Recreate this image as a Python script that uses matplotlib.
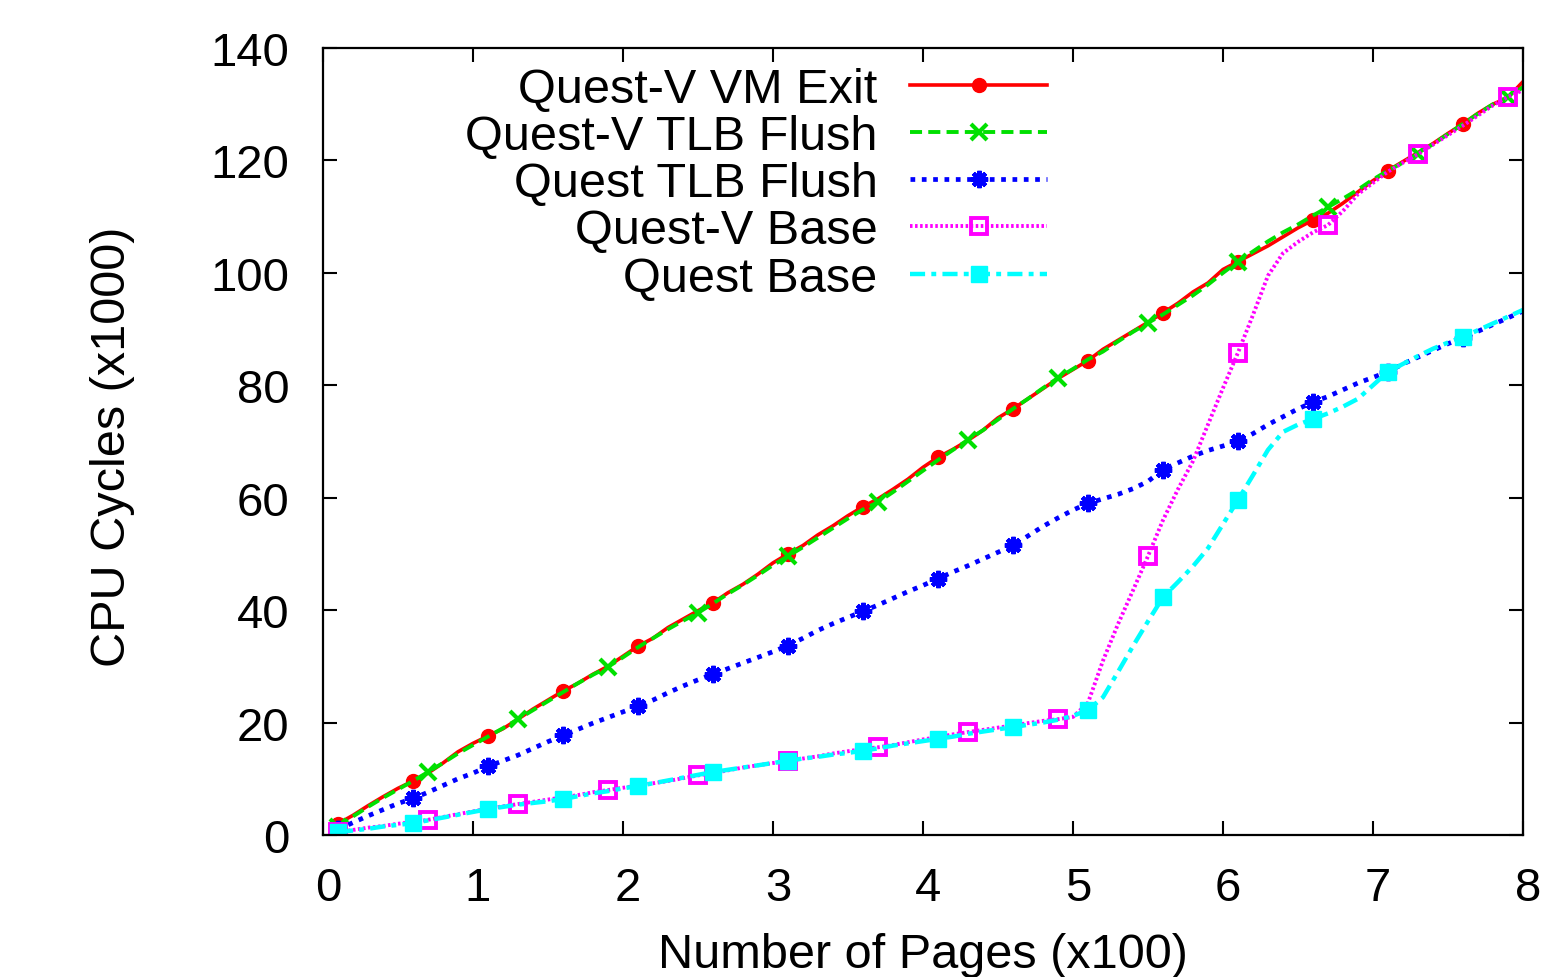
import matplotlib
matplotlib.use("Agg")
import matplotlib.pyplot as plt
import matplotlib.transforms as mtransforms

plt.rcParams['font.family'] = ['Liberation Sans', 'DejaVu Sans']

pages = [0.1, 0.2, 0.3, 0.4, 0.5, 0.6, 0.7, 0.8, 0.9, 1.0,
         1.1, 1.2, 1.3, 1.4, 1.5, 1.6, 1.7, 1.8, 1.9, 2.0,
         2.1, 2.2, 2.3, 2.4, 2.5, 2.6, 2.7, 2.8, 2.9, 3.0,
         3.1, 3.2, 3.3, 3.4, 3.5, 3.6, 3.7, 3.8, 3.9, 4.0,
         4.1, 4.2, 4.3, 4.4, 4.5, 4.6, 4.7, 4.8, 4.9, 5.0,
         5.1, 5.2, 5.3, 5.4, 5.5, 5.6, 5.7, 5.8, 5.9, 6.0,
         6.1, 6.2, 6.3, 6.4, 6.5, 6.6, 6.7, 6.8, 6.9, 7.0,
         7.1, 7.2, 7.3, 7.4, 7.5, 7.6, 7.7, 7.8, 7.9, 8.0]

questv_vm_exit = [2.0, 3.5, 5.2, 6.8, 8.3, 9.6, 11.0, 12.8, 14.8, 16.3,
                  17.6, 18.9, 20.6, 22.4, 24.0, 25.6, 27.0, 28.6, 30.0, 31.8,
                  33.6, 35.0, 36.9, 38.4, 39.9, 41.3, 43.1, 44.6, 46.4, 48.4,
                  50.0, 51.5, 53.4, 55.0, 56.8, 58.4, 59.8, 61.5, 63.3, 65.4,
                  67.2, 68.6, 70.2, 72.0, 74.2, 75.8, 77.6, 79.4, 81.2, 82.8,
                  84.4, 86.4, 88.0, 89.6, 91.2, 92.9, 94.6, 96.6, 98.2, 100.6,
                  102.0, 103.4, 104.8, 106.4, 108.0, 109.4, 110.6, 112.4, 114.4, 116.4,
                  118.2, 119.8, 121.4, 123.0, 124.8, 126.5, 128.4, 130.0, 131.2, 134.0]

questv_tlb_flush = [1.5, 3.3, 5.0, 6.6, 8.1, 9.6, 11.2, 12.8, 14.5, 16.0,
                    17.5, 19.0, 20.6, 22.2, 23.8, 25.4, 27.0, 28.5, 29.9, 31.6,
                    33.4, 35.0, 36.6, 38.1, 39.5, 41.2, 42.9, 44.5, 46.2, 48.0,
                    49.6, 51.2, 52.9, 54.6, 56.3, 57.9, 59.2, 61.0, 62.9, 64.8,
                    66.7, 68.5, 70.3, 72.0, 73.9, 75.8, 77.6, 79.5, 81.3, 82.9,
                    84.6, 86.0, 87.8, 89.5, 91.1, 92.6, 94.3, 96.0, 97.9, 100.0,
                    102.0, 103.8, 105.6, 107.2, 108.6, 110.2, 111.7, 113.2, 114.8, 116.6,
                    118.2, 119.6, 121.2, 122.9, 124.7, 126.5, 128.3, 130.0, 131.3, 133.0]

quest_tlb_flush = [1.0, 2.2, 3.4, 4.5, 5.6, 6.5, 7.6, 8.8, 10.0, 11.0,
                   12.2, 13.2, 14.2, 15.4, 16.6, 17.7, 18.8, 19.9, 20.9, 21.9,
                   22.9, 24.0, 25.3, 26.5, 27.6, 28.6, 29.6, 30.6, 31.6, 32.6,
                   33.7, 35.0, 36.4, 37.6, 38.7, 39.8, 40.9, 42.1, 43.3, 44.4,
                   45.6, 46.8, 47.9, 49.1, 50.3, 51.5, 53.2, 54.9, 56.4, 57.8,
                   59.0, 59.8, 60.6, 61.6, 62.9, 65.0, 66.2, 67.4, 68.4, 69.2,
                   70.0, 71.4, 73.0, 74.4, 75.8, 77.0, 78.0, 79.2, 80.4, 81.4,
                   82.4, 83.8, 85.0, 86.2, 87.4, 88.4, 89.6, 90.8, 92.0, 93.2]

questv_base = [0.5, 0.9, 1.3, 1.6, 2.0, 2.3, 2.7, 3.2, 3.7, 4.2,
               4.7, 5.1, 5.5, 5.9, 6.3, 6.7, 7.1, 7.6, 8.0, 8.4,
               8.8, 9.2, 9.6, 10.1, 10.6, 11.0, 11.5, 12.0, 12.4, 12.8,
               13.2, 13.6, 14.0, 14.5, 14.9, 15.3, 15.6, 16.0, 16.5, 17.0,
               17.4, 17.9, 18.3, 18.7, 19.1, 19.5, 19.9, 20.3, 20.6, 21.0,
               23.5, 31.0, 37.5, 43.5, 49.6, 56.0, 61.5, 66.5, 73.0, 79.5,
               85.8, 92.5, 99.5, 103.5, 105.5, 107.2, 108.5, 111.0, 114.0, 116.0,
               118.0, 119.6, 121.1, 122.8, 124.5, 126.2, 128.0, 129.8, 131.3, 132.5]

quest_base = [0.5, 0.8, 1.1, 1.5, 1.8, 2.1, 2.6, 3.1, 3.6, 4.1,
              4.6, 5.0, 5.4, 5.7, 6.0, 6.4, 6.9, 7.4, 7.8, 8.3,
              8.7, 9.2, 9.7, 10.2, 10.7, 11.2, 11.6, 12.0, 12.4, 12.8,
              13.2, 13.6, 13.9, 14.3, 14.6, 15.0, 15.4, 15.9, 16.3, 16.7,
              17.1, 17.5, 18.0, 18.4, 18.8, 19.2, 19.6, 20.0, 20.5, 21.2,
              22.2, 24.5, 29.0, 33.6, 38.0, 42.3, 45.0, 47.8, 51.0, 55.3,
              59.6, 64.0, 68.5, 71.7, 73.0, 74.0, 75.0, 76.2, 77.6, 80.0,
              82.4, 83.8, 85.2, 86.5, 87.6, 88.6, 89.8, 91.0, 92.2, 93.4]

labels = ["Quest-V VM Exit", "Quest-V TLB Flush", "Quest TLB Flush",
          "Quest-V Base", "Quest Base"]
x_ticks = [0, 1, 2, 3, 4, 5, 6, 7, 8]
y_ticks = [0, 20, 40, 60, 80, 100, 120, 140]

fig = plt.figure(figsize=(15.46, 9.78), dpi=100)
ax = fig.add_axes([0.2089, 0.1452, 0.7762, 0.8047])

ax.plot(pages, questv_vm_exit, color='#ff0000', lw=2.6, ls='-',
        marker='o', ms=10, markevery=(0, 5), label=labels[0])
ax.plot(pages, questv_tlb_flush, color='#00e000', lw=2.8, dashes=(3.1, 1.6),
        marker='x', ms=12, mew=3.0, markevery=(0, 6), label=labels[1])
ax.plot(pages, quest_tlb_flush, color='#0000ff', lw=3.4, dashes=(1.0, 1.4),
        marker=(8, 2, 0), ms=12.5, mew=3.0, markevery=(0, 5), label=labels[2])
ax.plot(pages, questv_base, color='#ff00ff', lw=2.8, dashes=(0.65, 0.65),
        marker='s', ms=12, mew=2.8, mfc='none', markevery=(0, 6), label=labels[3])
ax.plot(pages, quest_base, color='#00ffff', lw=3.2, dashes=(3.4, 1.4, 1.1, 1.4),
        marker='s', ms=11, markevery=(0, 5), label=labels[4])

ax.set_xlim(0, 8)
ax.set_ylim(0, 140)
ax.set_xticks(x_ticks)
ax.set_yticks(y_ticks)
ax.set_xticklabels([str(v) for v in x_ticks])
ax.set_yticklabels([str(v) for v in y_ticks])

for s in ax.spines.values():
    s.set_linewidth(1.6)
ax.tick_params(direction='in', length=10, width=1.5, top=True, right=True,
               labelsize=34)
ax.tick_params(axis='y', pad=24)
ax.tick_params(axis='x', pad=22)
offset = mtransforms.ScaledTranslation(5 / 100, 0, fig.dpi_scale_trans)
for lab in ax.get_xticklabels():
    lab.set_transform(lab.get_transform() + offset)

ax.set_xlabel("Number of Pages (x100)", fontsize=35, va='baseline')
ax.xaxis.set_label_coords(0.5, -0.168)
ax.set_ylabel("CPU Cycles (x1000)", fontsize=35, va='center')
ax.yaxis.set_label_coords(-0.175, 0.495)

leg = ax.legend(loc='upper right', bbox_to_anchor=(0.603, 0.976),
                markerfirst=False, frameon=False, fontsize=35, numpoints=1,
                handlelength=2.8, handletextpad=0.68, labelspacing=0.045,
                borderaxespad=0, borderpad=0)

fig.savefig("out.png", dpi=100)
